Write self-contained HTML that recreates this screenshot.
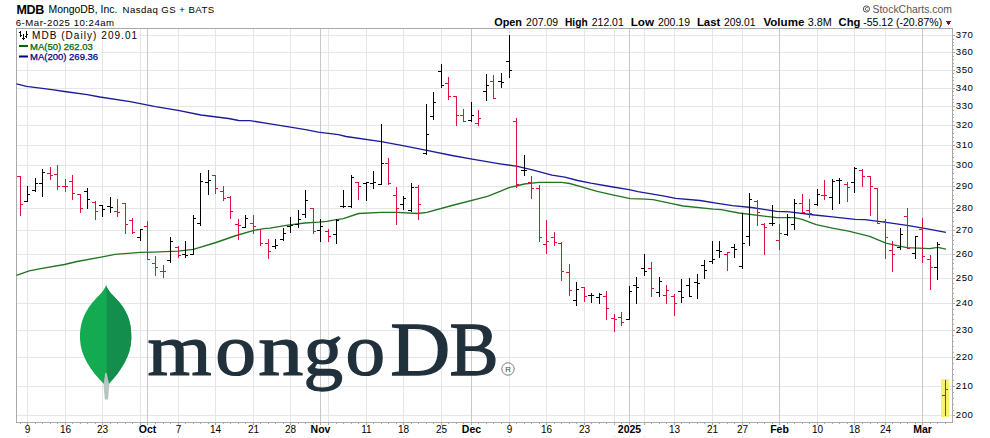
<!DOCTYPE html>
<html><head><meta charset="utf-8"><style>
html,body{margin:0;padding:0;background:#fff;width:990px;height:438px;overflow:hidden}
svg{display:block}
</style></head><body>
<svg width="990" height="438" viewBox="0 0 990 438" shape-rendering="crispEdges">
<rect x="0" y="0" width="990" height="438" fill="#fff"/>
<line x1="17" y1="415.5" x2="952" y2="415.5" stroke="#e6e6e6"/>
<line x1="17" y1="386.5" x2="952" y2="386.5" stroke="#e6e6e6"/>
<line x1="17" y1="357.5" x2="952" y2="357.5" stroke="#e6e6e6"/>
<line x1="17" y1="330.5" x2="952" y2="330.5" stroke="#e6e6e6"/>
<line x1="17" y1="303.5" x2="952" y2="303.5" stroke="#e6e6e6"/>
<line x1="17" y1="278.5" x2="952" y2="278.5" stroke="#e6e6e6"/>
<line x1="17" y1="254.5" x2="952" y2="254.5" stroke="#e6e6e6"/>
<line x1="17" y1="230.5" x2="952" y2="230.5" stroke="#e6e6e6"/>
<line x1="17" y1="208.5" x2="952" y2="208.5" stroke="#e6e6e6"/>
<line x1="17" y1="186.5" x2="952" y2="186.5" stroke="#e6e6e6"/>
<line x1="17" y1="165.5" x2="952" y2="165.5" stroke="#e6e6e6"/>
<line x1="17" y1="145.5" x2="952" y2="145.5" stroke="#e6e6e6"/>
<line x1="17" y1="125.5" x2="952" y2="125.5" stroke="#e6e6e6"/>
<line x1="17" y1="106.5" x2="952" y2="106.5" stroke="#e6e6e6"/>
<line x1="17" y1="88.5" x2="952" y2="88.5" stroke="#e6e6e6"/>
<line x1="17" y1="70.5" x2="952" y2="70.5" stroke="#e6e6e6"/>
<line x1="17" y1="52.5" x2="952" y2="52.5" stroke="#e6e6e6"/>
<line x1="17" y1="35.5" x2="952" y2="35.5" stroke="#e6e6e6"/>
<line x1="27.5" y1="29" x2="27.5" y2="422" stroke="#e6e6e6"/>
<line x1="65.5" y1="29" x2="65.5" y2="422" stroke="#e6e6e6"/>
<line x1="102.5" y1="29" x2="102.5" y2="422" stroke="#e6e6e6"/>
<line x1="140.5" y1="29" x2="140.5" y2="422" stroke="#e6e6e6"/>
<line x1="178.5" y1="29" x2="178.5" y2="422" stroke="#e6e6e6"/>
<line x1="215.5" y1="29" x2="215.5" y2="422" stroke="#e6e6e6"/>
<line x1="253.5" y1="29" x2="253.5" y2="422" stroke="#e6e6e6"/>
<line x1="290.5" y1="29" x2="290.5" y2="422" stroke="#e6e6e6"/>
<line x1="328.5" y1="29" x2="328.5" y2="422" stroke="#e6e6e6"/>
<line x1="366.5" y1="29" x2="366.5" y2="422" stroke="#e6e6e6"/>
<line x1="403.5" y1="29" x2="403.5" y2="422" stroke="#e6e6e6"/>
<line x1="441.5" y1="29" x2="441.5" y2="422" stroke="#e6e6e6"/>
<line x1="509.5" y1="29" x2="509.5" y2="422" stroke="#e6e6e6"/>
<line x1="546.5" y1="29" x2="546.5" y2="422" stroke="#e6e6e6"/>
<line x1="584.5" y1="29" x2="584.5" y2="422" stroke="#e6e6e6"/>
<line x1="614.5" y1="29" x2="614.5" y2="422" stroke="#e6e6e6"/>
<line x1="644.5" y1="29" x2="644.5" y2="422" stroke="#e6e6e6"/>
<line x1="674.5" y1="29" x2="674.5" y2="422" stroke="#e6e6e6"/>
<line x1="712.5" y1="29" x2="712.5" y2="422" stroke="#e6e6e6"/>
<line x1="742.5" y1="29" x2="742.5" y2="422" stroke="#e6e6e6"/>
<line x1="817.5" y1="29" x2="817.5" y2="422" stroke="#e6e6e6"/>
<line x1="854.5" y1="29" x2="854.5" y2="422" stroke="#e6e6e6"/>
<line x1="885.5" y1="29" x2="885.5" y2="422" stroke="#e6e6e6"/>
<line x1="147.5" y1="29" x2="147.5" y2="422" stroke="#c8c8c8"/>
<line x1="320.5" y1="29" x2="320.5" y2="422" stroke="#c8c8c8"/>
<line x1="471.5" y1="29" x2="471.5" y2="422" stroke="#c8c8c8"/>
<line x1="629.5" y1="29" x2="629.5" y2="422" stroke="#c8c8c8"/>
<line x1="779.5" y1="29" x2="779.5" y2="422" stroke="#c8c8c8"/>
<line x1="922.5" y1="29" x2="922.5" y2="422" stroke="#c8c8c8"/>
<rect x="16.5" y="28.5" width="936" height="394" fill="none" stroke="#a9a9a9"/>
<line x1="953" y1="415.5" x2="955" y2="415.5" stroke="#a9a9a9"/>
<line x1="953" y1="410.5" x2="954" y2="410.5" stroke="#a9a9a9"/>
<line x1="953" y1="404.5" x2="954" y2="404.5" stroke="#a9a9a9"/>
<line x1="953" y1="398.5" x2="954" y2="398.5" stroke="#a9a9a9"/>
<line x1="953" y1="392.5" x2="954" y2="392.5" stroke="#a9a9a9"/>
<line x1="953" y1="386.5" x2="955" y2="386.5" stroke="#a9a9a9"/>
<line x1="953" y1="380.5" x2="954" y2="380.5" stroke="#a9a9a9"/>
<line x1="953" y1="374.5" x2="954" y2="374.5" stroke="#a9a9a9"/>
<line x1="953" y1="369.5" x2="954" y2="369.5" stroke="#a9a9a9"/>
<line x1="953" y1="363.5" x2="954" y2="363.5" stroke="#a9a9a9"/>
<line x1="953" y1="357.5" x2="955" y2="357.5" stroke="#a9a9a9"/>
<line x1="953" y1="352.5" x2="954" y2="352.5" stroke="#a9a9a9"/>
<line x1="953" y1="346.5" x2="954" y2="346.5" stroke="#a9a9a9"/>
<line x1="953" y1="341.5" x2="954" y2="341.5" stroke="#a9a9a9"/>
<line x1="953" y1="335.5" x2="954" y2="335.5" stroke="#a9a9a9"/>
<line x1="953" y1="330.5" x2="955" y2="330.5" stroke="#a9a9a9"/>
<line x1="953" y1="324.5" x2="954" y2="324.5" stroke="#a9a9a9"/>
<line x1="953" y1="319.5" x2="954" y2="319.5" stroke="#a9a9a9"/>
<line x1="953" y1="314.5" x2="954" y2="314.5" stroke="#a9a9a9"/>
<line x1="953" y1="309.5" x2="954" y2="309.5" stroke="#a9a9a9"/>
<line x1="953" y1="303.5" x2="955" y2="303.5" stroke="#a9a9a9"/>
<line x1="953" y1="298.5" x2="954" y2="298.5" stroke="#a9a9a9"/>
<line x1="953" y1="293.5" x2="954" y2="293.5" stroke="#a9a9a9"/>
<line x1="953" y1="288.5" x2="954" y2="288.5" stroke="#a9a9a9"/>
<line x1="953" y1="283.5" x2="954" y2="283.5" stroke="#a9a9a9"/>
<line x1="953" y1="278.5" x2="955" y2="278.5" stroke="#a9a9a9"/>
<line x1="953" y1="273.5" x2="954" y2="273.5" stroke="#a9a9a9"/>
<line x1="953" y1="268.5" x2="954" y2="268.5" stroke="#a9a9a9"/>
<line x1="953" y1="263.5" x2="954" y2="263.5" stroke="#a9a9a9"/>
<line x1="953" y1="259.5" x2="954" y2="259.5" stroke="#a9a9a9"/>
<line x1="953" y1="254.5" x2="955" y2="254.5" stroke="#a9a9a9"/>
<line x1="953" y1="249.5" x2="954" y2="249.5" stroke="#a9a9a9"/>
<line x1="953" y1="244.5" x2="954" y2="244.5" stroke="#a9a9a9"/>
<line x1="953" y1="240.5" x2="954" y2="240.5" stroke="#a9a9a9"/>
<line x1="953" y1="235.5" x2="954" y2="235.5" stroke="#a9a9a9"/>
<line x1="953" y1="230.5" x2="955" y2="230.5" stroke="#a9a9a9"/>
<line x1="953" y1="226.5" x2="954" y2="226.5" stroke="#a9a9a9"/>
<line x1="953" y1="221.5" x2="954" y2="221.5" stroke="#a9a9a9"/>
<line x1="953" y1="217.5" x2="954" y2="217.5" stroke="#a9a9a9"/>
<line x1="953" y1="212.5" x2="954" y2="212.5" stroke="#a9a9a9"/>
<line x1="953" y1="208.5" x2="955" y2="208.5" stroke="#a9a9a9"/>
<line x1="953" y1="203.5" x2="954" y2="203.5" stroke="#a9a9a9"/>
<line x1="953" y1="199.5" x2="954" y2="199.5" stroke="#a9a9a9"/>
<line x1="953" y1="195.5" x2="954" y2="195.5" stroke="#a9a9a9"/>
<line x1="953" y1="190.5" x2="954" y2="190.5" stroke="#a9a9a9"/>
<line x1="953" y1="186.5" x2="955" y2="186.5" stroke="#a9a9a9"/>
<line x1="953" y1="182.5" x2="954" y2="182.5" stroke="#a9a9a9"/>
<line x1="953" y1="178.5" x2="954" y2="178.5" stroke="#a9a9a9"/>
<line x1="953" y1="173.5" x2="954" y2="173.5" stroke="#a9a9a9"/>
<line x1="953" y1="169.5" x2="954" y2="169.5" stroke="#a9a9a9"/>
<line x1="953" y1="165.5" x2="955" y2="165.5" stroke="#a9a9a9"/>
<line x1="953" y1="161.5" x2="954" y2="161.5" stroke="#a9a9a9"/>
<line x1="953" y1="157.5" x2="954" y2="157.5" stroke="#a9a9a9"/>
<line x1="953" y1="153.5" x2="954" y2="153.5" stroke="#a9a9a9"/>
<line x1="953" y1="149.5" x2="954" y2="149.5" stroke="#a9a9a9"/>
<line x1="953" y1="145.5" x2="955" y2="145.5" stroke="#a9a9a9"/>
<line x1="953" y1="141.5" x2="954" y2="141.5" stroke="#a9a9a9"/>
<line x1="953" y1="137.5" x2="954" y2="137.5" stroke="#a9a9a9"/>
<line x1="953" y1="133.5" x2="954" y2="133.5" stroke="#a9a9a9"/>
<line x1="953" y1="129.5" x2="954" y2="129.5" stroke="#a9a9a9"/>
<line x1="953" y1="125.5" x2="955" y2="125.5" stroke="#a9a9a9"/>
<line x1="953" y1="121.5" x2="954" y2="121.5" stroke="#a9a9a9"/>
<line x1="953" y1="117.5" x2="954" y2="117.5" stroke="#a9a9a9"/>
<line x1="953" y1="114.5" x2="954" y2="114.5" stroke="#a9a9a9"/>
<line x1="953" y1="110.5" x2="954" y2="110.5" stroke="#a9a9a9"/>
<line x1="953" y1="106.5" x2="955" y2="106.5" stroke="#a9a9a9"/>
<line x1="953" y1="102.5" x2="954" y2="102.5" stroke="#a9a9a9"/>
<line x1="953" y1="99.5" x2="954" y2="99.5" stroke="#a9a9a9"/>
<line x1="953" y1="95.5" x2="954" y2="95.5" stroke="#a9a9a9"/>
<line x1="953" y1="91.5" x2="954" y2="91.5" stroke="#a9a9a9"/>
<line x1="953" y1="88.5" x2="955" y2="88.5" stroke="#a9a9a9"/>
<line x1="953" y1="84.5" x2="954" y2="84.5" stroke="#a9a9a9"/>
<line x1="953" y1="80.5" x2="954" y2="80.5" stroke="#a9a9a9"/>
<line x1="953" y1="77.5" x2="954" y2="77.5" stroke="#a9a9a9"/>
<line x1="953" y1="73.5" x2="954" y2="73.5" stroke="#a9a9a9"/>
<line x1="953" y1="70.5" x2="955" y2="70.5" stroke="#a9a9a9"/>
<line x1="953" y1="66.5" x2="954" y2="66.5" stroke="#a9a9a9"/>
<line x1="953" y1="63.5" x2="954" y2="63.5" stroke="#a9a9a9"/>
<line x1="953" y1="59.5" x2="954" y2="59.5" stroke="#a9a9a9"/>
<line x1="953" y1="56.5" x2="954" y2="56.5" stroke="#a9a9a9"/>
<line x1="953" y1="52.5" x2="955" y2="52.5" stroke="#a9a9a9"/>
<line x1="953" y1="49.5" x2="954" y2="49.5" stroke="#a9a9a9"/>
<line x1="953" y1="45.5" x2="954" y2="45.5" stroke="#a9a9a9"/>
<line x1="953" y1="42.5" x2="954" y2="42.5" stroke="#a9a9a9"/>
<line x1="953" y1="39.5" x2="954" y2="39.5" stroke="#a9a9a9"/>
<line x1="953" y1="35.5" x2="955" y2="35.5" stroke="#a9a9a9"/>
<line x1="20.5" y1="423" x2="20.5" y2="424" stroke="#a9a9a9"/>
<line x1="27.5" y1="423" x2="27.5" y2="424" stroke="#a9a9a9"/>
<line x1="35.5" y1="423" x2="35.5" y2="424" stroke="#a9a9a9"/>
<line x1="42.5" y1="423" x2="42.5" y2="424" stroke="#a9a9a9"/>
<line x1="50.5" y1="423" x2="50.5" y2="424" stroke="#a9a9a9"/>
<line x1="57.5" y1="423" x2="57.5" y2="424" stroke="#a9a9a9"/>
<line x1="65.5" y1="423" x2="65.5" y2="424" stroke="#a9a9a9"/>
<line x1="72.5" y1="423" x2="72.5" y2="424" stroke="#a9a9a9"/>
<line x1="80.5" y1="423" x2="80.5" y2="424" stroke="#a9a9a9"/>
<line x1="87.5" y1="423" x2="87.5" y2="424" stroke="#a9a9a9"/>
<line x1="95.5" y1="423" x2="95.5" y2="424" stroke="#a9a9a9"/>
<line x1="102.5" y1="423" x2="102.5" y2="424" stroke="#a9a9a9"/>
<line x1="110.5" y1="423" x2="110.5" y2="424" stroke="#a9a9a9"/>
<line x1="117.5" y1="423" x2="117.5" y2="424" stroke="#a9a9a9"/>
<line x1="125.5" y1="423" x2="125.5" y2="424" stroke="#a9a9a9"/>
<line x1="132.5" y1="423" x2="132.5" y2="424" stroke="#a9a9a9"/>
<line x1="140.5" y1="423" x2="140.5" y2="424" stroke="#a9a9a9"/>
<line x1="147.5" y1="423" x2="147.5" y2="424" stroke="#a9a9a9"/>
<line x1="155.5" y1="423" x2="155.5" y2="424" stroke="#a9a9a9"/>
<line x1="163.5" y1="423" x2="163.5" y2="424" stroke="#a9a9a9"/>
<line x1="170.5" y1="423" x2="170.5" y2="424" stroke="#a9a9a9"/>
<line x1="178.5" y1="423" x2="178.5" y2="424" stroke="#a9a9a9"/>
<line x1="185.5" y1="423" x2="185.5" y2="424" stroke="#a9a9a9"/>
<line x1="193.5" y1="423" x2="193.5" y2="424" stroke="#a9a9a9"/>
<line x1="200.5" y1="423" x2="200.5" y2="424" stroke="#a9a9a9"/>
<line x1="208.5" y1="423" x2="208.5" y2="424" stroke="#a9a9a9"/>
<line x1="215.5" y1="423" x2="215.5" y2="424" stroke="#a9a9a9"/>
<line x1="223.5" y1="423" x2="223.5" y2="424" stroke="#a9a9a9"/>
<line x1="230.5" y1="423" x2="230.5" y2="424" stroke="#a9a9a9"/>
<line x1="238.5" y1="423" x2="238.5" y2="424" stroke="#a9a9a9"/>
<line x1="245.5" y1="423" x2="245.5" y2="424" stroke="#a9a9a9"/>
<line x1="253.5" y1="423" x2="253.5" y2="424" stroke="#a9a9a9"/>
<line x1="260.5" y1="423" x2="260.5" y2="424" stroke="#a9a9a9"/>
<line x1="268.5" y1="423" x2="268.5" y2="424" stroke="#a9a9a9"/>
<line x1="275.5" y1="423" x2="275.5" y2="424" stroke="#a9a9a9"/>
<line x1="283.5" y1="423" x2="283.5" y2="424" stroke="#a9a9a9"/>
<line x1="290.5" y1="423" x2="290.5" y2="424" stroke="#a9a9a9"/>
<line x1="298.5" y1="423" x2="298.5" y2="424" stroke="#a9a9a9"/>
<line x1="305.5" y1="423" x2="305.5" y2="424" stroke="#a9a9a9"/>
<line x1="313.5" y1="423" x2="313.5" y2="424" stroke="#a9a9a9"/>
<line x1="320.5" y1="423" x2="320.5" y2="424" stroke="#a9a9a9"/>
<line x1="328.5" y1="423" x2="328.5" y2="424" stroke="#a9a9a9"/>
<line x1="336.5" y1="423" x2="336.5" y2="424" stroke="#a9a9a9"/>
<line x1="343.5" y1="423" x2="343.5" y2="424" stroke="#a9a9a9"/>
<line x1="351.5" y1="423" x2="351.5" y2="424" stroke="#a9a9a9"/>
<line x1="358.5" y1="423" x2="358.5" y2="424" stroke="#a9a9a9"/>
<line x1="366.5" y1="423" x2="366.5" y2="424" stroke="#a9a9a9"/>
<line x1="373.5" y1="423" x2="373.5" y2="424" stroke="#a9a9a9"/>
<line x1="381.5" y1="423" x2="381.5" y2="424" stroke="#a9a9a9"/>
<line x1="388.5" y1="423" x2="388.5" y2="424" stroke="#a9a9a9"/>
<line x1="396.5" y1="423" x2="396.5" y2="424" stroke="#a9a9a9"/>
<line x1="403.5" y1="423" x2="403.5" y2="424" stroke="#a9a9a9"/>
<line x1="411.5" y1="423" x2="411.5" y2="424" stroke="#a9a9a9"/>
<line x1="418.5" y1="423" x2="418.5" y2="424" stroke="#a9a9a9"/>
<line x1="426.5" y1="423" x2="426.5" y2="424" stroke="#a9a9a9"/>
<line x1="433.5" y1="423" x2="433.5" y2="424" stroke="#a9a9a9"/>
<line x1="441.5" y1="423" x2="441.5" y2="424" stroke="#a9a9a9"/>
<line x1="448.5" y1="423" x2="448.5" y2="424" stroke="#a9a9a9"/>
<line x1="456.5" y1="423" x2="456.5" y2="424" stroke="#a9a9a9"/>
<line x1="463.5" y1="423" x2="463.5" y2="424" stroke="#a9a9a9"/>
<line x1="471.5" y1="423" x2="471.5" y2="424" stroke="#a9a9a9"/>
<line x1="478.5" y1="423" x2="478.5" y2="424" stroke="#a9a9a9"/>
<line x1="486.5" y1="423" x2="486.5" y2="424" stroke="#a9a9a9"/>
<line x1="493.5" y1="423" x2="493.5" y2="424" stroke="#a9a9a9"/>
<line x1="501.5" y1="423" x2="501.5" y2="424" stroke="#a9a9a9"/>
<line x1="509.5" y1="423" x2="509.5" y2="424" stroke="#a9a9a9"/>
<line x1="516.5" y1="423" x2="516.5" y2="424" stroke="#a9a9a9"/>
<line x1="524.5" y1="423" x2="524.5" y2="424" stroke="#a9a9a9"/>
<line x1="531.5" y1="423" x2="531.5" y2="424" stroke="#a9a9a9"/>
<line x1="539.5" y1="423" x2="539.5" y2="424" stroke="#a9a9a9"/>
<line x1="546.5" y1="423" x2="546.5" y2="424" stroke="#a9a9a9"/>
<line x1="554.5" y1="423" x2="554.5" y2="424" stroke="#a9a9a9"/>
<line x1="561.5" y1="423" x2="561.5" y2="424" stroke="#a9a9a9"/>
<line x1="569.5" y1="423" x2="569.5" y2="424" stroke="#a9a9a9"/>
<line x1="576.5" y1="423" x2="576.5" y2="424" stroke="#a9a9a9"/>
<line x1="584.5" y1="423" x2="584.5" y2="424" stroke="#a9a9a9"/>
<line x1="591.5" y1="423" x2="591.5" y2="424" stroke="#a9a9a9"/>
<line x1="599.5" y1="423" x2="599.5" y2="424" stroke="#a9a9a9"/>
<line x1="606.5" y1="423" x2="606.5" y2="424" stroke="#a9a9a9"/>
<line x1="614.5" y1="423" x2="614.5" y2="424" stroke="#a9a9a9"/>
<line x1="621.5" y1="423" x2="621.5" y2="424" stroke="#a9a9a9"/>
<line x1="629.5" y1="423" x2="629.5" y2="424" stroke="#a9a9a9"/>
<line x1="636.5" y1="423" x2="636.5" y2="424" stroke="#a9a9a9"/>
<line x1="644.5" y1="423" x2="644.5" y2="424" stroke="#a9a9a9"/>
<line x1="651.5" y1="423" x2="651.5" y2="424" stroke="#a9a9a9"/>
<line x1="659.5" y1="423" x2="659.5" y2="424" stroke="#a9a9a9"/>
<line x1="666.5" y1="423" x2="666.5" y2="424" stroke="#a9a9a9"/>
<line x1="674.5" y1="423" x2="674.5" y2="424" stroke="#a9a9a9"/>
<line x1="681.5" y1="423" x2="681.5" y2="424" stroke="#a9a9a9"/>
<line x1="689.5" y1="423" x2="689.5" y2="424" stroke="#a9a9a9"/>
<line x1="697.5" y1="423" x2="697.5" y2="424" stroke="#a9a9a9"/>
<line x1="704.5" y1="423" x2="704.5" y2="424" stroke="#a9a9a9"/>
<line x1="712.5" y1="423" x2="712.5" y2="424" stroke="#a9a9a9"/>
<line x1="719.5" y1="423" x2="719.5" y2="424" stroke="#a9a9a9"/>
<line x1="727.5" y1="423" x2="727.5" y2="424" stroke="#a9a9a9"/>
<line x1="734.5" y1="423" x2="734.5" y2="424" stroke="#a9a9a9"/>
<line x1="742.5" y1="423" x2="742.5" y2="424" stroke="#a9a9a9"/>
<line x1="749.5" y1="423" x2="749.5" y2="424" stroke="#a9a9a9"/>
<line x1="757.5" y1="423" x2="757.5" y2="424" stroke="#a9a9a9"/>
<line x1="764.5" y1="423" x2="764.5" y2="424" stroke="#a9a9a9"/>
<line x1="772.5" y1="423" x2="772.5" y2="424" stroke="#a9a9a9"/>
<line x1="779.5" y1="423" x2="779.5" y2="424" stroke="#a9a9a9"/>
<line x1="787.5" y1="423" x2="787.5" y2="424" stroke="#a9a9a9"/>
<line x1="794.5" y1="423" x2="794.5" y2="424" stroke="#a9a9a9"/>
<line x1="802.5" y1="423" x2="802.5" y2="424" stroke="#a9a9a9"/>
<line x1="809.5" y1="423" x2="809.5" y2="424" stroke="#a9a9a9"/>
<line x1="817.5" y1="423" x2="817.5" y2="424" stroke="#a9a9a9"/>
<line x1="824.5" y1="423" x2="824.5" y2="424" stroke="#a9a9a9"/>
<line x1="832.5" y1="423" x2="832.5" y2="424" stroke="#a9a9a9"/>
<line x1="839.5" y1="423" x2="839.5" y2="424" stroke="#a9a9a9"/>
<line x1="847.5" y1="423" x2="847.5" y2="424" stroke="#a9a9a9"/>
<line x1="854.5" y1="423" x2="854.5" y2="424" stroke="#a9a9a9"/>
<line x1="862.5" y1="423" x2="862.5" y2="424" stroke="#a9a9a9"/>
<line x1="870.5" y1="423" x2="870.5" y2="424" stroke="#a9a9a9"/>
<line x1="877.5" y1="423" x2="877.5" y2="424" stroke="#a9a9a9"/>
<line x1="885.5" y1="423" x2="885.5" y2="424" stroke="#a9a9a9"/>
<line x1="892.5" y1="423" x2="892.5" y2="424" stroke="#a9a9a9"/>
<line x1="900.5" y1="423" x2="900.5" y2="424" stroke="#a9a9a9"/>
<line x1="907.5" y1="423" x2="907.5" y2="424" stroke="#a9a9a9"/>
<line x1="915.5" y1="423" x2="915.5" y2="424" stroke="#a9a9a9"/>
<line x1="922.5" y1="423" x2="922.5" y2="424" stroke="#a9a9a9"/>
<line x1="930.5" y1="423" x2="930.5" y2="424" stroke="#a9a9a9"/>
<line x1="937.5" y1="423" x2="937.5" y2="424" stroke="#a9a9a9"/>
<line x1="945.5" y1="423" x2="945.5" y2="424" stroke="#a9a9a9"/>
<line x1="27.5" y1="423" x2="27.5" y2="425" stroke="#a9a9a9"/>
<rect x="27" y="436" width="1" height="1" fill="#d0d0d0"/>
<line x1="65.5" y1="423" x2="65.5" y2="425" stroke="#a9a9a9"/>
<rect x="65" y="436" width="1" height="1" fill="#d0d0d0"/>
<line x1="102.5" y1="423" x2="102.5" y2="425" stroke="#a9a9a9"/>
<rect x="102" y="436" width="1" height="1" fill="#d0d0d0"/>
<line x1="140.5" y1="423" x2="140.5" y2="425" stroke="#a9a9a9"/>
<rect x="140" y="436" width="1" height="1" fill="#d0d0d0"/>
<line x1="178.5" y1="423" x2="178.5" y2="425" stroke="#a9a9a9"/>
<rect x="178" y="436" width="1" height="1" fill="#d0d0d0"/>
<line x1="215.5" y1="423" x2="215.5" y2="425" stroke="#a9a9a9"/>
<rect x="215" y="436" width="1" height="1" fill="#d0d0d0"/>
<line x1="253.5" y1="423" x2="253.5" y2="425" stroke="#a9a9a9"/>
<rect x="253" y="436" width="1" height="1" fill="#d0d0d0"/>
<line x1="290.5" y1="423" x2="290.5" y2="425" stroke="#a9a9a9"/>
<rect x="290" y="436" width="1" height="1" fill="#d0d0d0"/>
<line x1="328.5" y1="423" x2="328.5" y2="425" stroke="#a9a9a9"/>
<rect x="328" y="436" width="1" height="1" fill="#d0d0d0"/>
<line x1="366.5" y1="423" x2="366.5" y2="425" stroke="#a9a9a9"/>
<rect x="366" y="436" width="1" height="1" fill="#d0d0d0"/>
<line x1="403.5" y1="423" x2="403.5" y2="425" stroke="#a9a9a9"/>
<rect x="403" y="436" width="1" height="1" fill="#d0d0d0"/>
<line x1="441.5" y1="423" x2="441.5" y2="425" stroke="#a9a9a9"/>
<rect x="441" y="436" width="1" height="1" fill="#d0d0d0"/>
<line x1="509.5" y1="423" x2="509.5" y2="425" stroke="#a9a9a9"/>
<rect x="509" y="436" width="1" height="1" fill="#d0d0d0"/>
<line x1="546.5" y1="423" x2="546.5" y2="425" stroke="#a9a9a9"/>
<rect x="546" y="436" width="1" height="1" fill="#d0d0d0"/>
<line x1="584.5" y1="423" x2="584.5" y2="425" stroke="#a9a9a9"/>
<rect x="584" y="436" width="1" height="1" fill="#d0d0d0"/>
<line x1="614.5" y1="423" x2="614.5" y2="425" stroke="#a9a9a9"/>
<rect x="614" y="436" width="1" height="1" fill="#d0d0d0"/>
<line x1="644.5" y1="423" x2="644.5" y2="425" stroke="#a9a9a9"/>
<rect x="644" y="436" width="1" height="1" fill="#d0d0d0"/>
<line x1="674.5" y1="423" x2="674.5" y2="425" stroke="#a9a9a9"/>
<rect x="674" y="436" width="1" height="1" fill="#d0d0d0"/>
<line x1="712.5" y1="423" x2="712.5" y2="425" stroke="#a9a9a9"/>
<rect x="712" y="436" width="1" height="1" fill="#d0d0d0"/>
<line x1="742.5" y1="423" x2="742.5" y2="425" stroke="#a9a9a9"/>
<rect x="742" y="436" width="1" height="1" fill="#d0d0d0"/>
<line x1="817.5" y1="423" x2="817.5" y2="425" stroke="#a9a9a9"/>
<rect x="817" y="436" width="1" height="1" fill="#d0d0d0"/>
<line x1="854.5" y1="423" x2="854.5" y2="425" stroke="#a9a9a9"/>
<rect x="854" y="436" width="1" height="1" fill="#d0d0d0"/>
<line x1="885.5" y1="423" x2="885.5" y2="425" stroke="#a9a9a9"/>
<rect x="885" y="436" width="1" height="1" fill="#d0d0d0"/>
<line x1="147.5" y1="423" x2="147.5" y2="425" stroke="#a9a9a9"/>
<rect x="147" y="436" width="1" height="1" fill="#d0d0d0"/>
<line x1="320.5" y1="423" x2="320.5" y2="425" stroke="#a9a9a9"/>
<rect x="320" y="436" width="1" height="1" fill="#d0d0d0"/>
<line x1="471.5" y1="423" x2="471.5" y2="425" stroke="#a9a9a9"/>
<rect x="471" y="436" width="1" height="1" fill="#d0d0d0"/>
<line x1="629.5" y1="423" x2="629.5" y2="425" stroke="#a9a9a9"/>
<rect x="629" y="436" width="1" height="1" fill="#d0d0d0"/>
<line x1="779.5" y1="423" x2="779.5" y2="425" stroke="#a9a9a9"/>
<rect x="779" y="436" width="1" height="1" fill="#d0d0d0"/>
<line x1="922.5" y1="423" x2="922.5" y2="425" stroke="#a9a9a9"/>
<rect x="922" y="436" width="1" height="1" fill="#d0d0d0"/>
<g font-family="Liberation Sans, sans-serif" font-size="9.6" letter-spacing="0.5" fill="#000" shape-rendering="auto">
<text x="955.8" y="417.6">200</text>
<text x="955.8" y="388.6">210</text>
<text x="955.8" y="359.6">220</text>
<text x="955.8" y="332.6">230</text>
<text x="955.8" y="305.6">240</text>
<text x="955.8" y="280.6">250</text>
<text x="955.8" y="256.6">260</text>
<text x="955.8" y="232.6">270</text>
<text x="955.8" y="210.6">280</text>
<text x="955.8" y="188.6">290</text>
<text x="955.8" y="167.6">300</text>
<text x="955.8" y="147.6">310</text>
<text x="955.8" y="127.6">320</text>
<text x="955.8" y="108.6">330</text>
<text x="955.8" y="90.6">340</text>
<text x="955.8" y="72.6">350</text>
<text x="955.8" y="54.6">360</text>
<text x="955.8" y="37.6">370</text>
</g>
<g font-family="Liberation Sans, sans-serif" font-size="10" fill="#000" text-anchor="middle" shape-rendering="auto">
<text x="27.5" y="433">9</text>
<text x="65.5" y="433">16</text>
<text x="102.5" y="433">23</text>
<text x="147.5" y="433" font-weight="bold" font-size="10.5">Oct</text>
<text x="178.5" y="433">7</text>
<text x="215.5" y="433">14</text>
<text x="253.5" y="433">21</text>
<text x="290.5" y="433">28</text>
<text x="320.5" y="433" font-weight="bold" font-size="10.5">Nov</text>
<text x="366.5" y="433">11</text>
<text x="403.5" y="433">18</text>
<text x="441.5" y="433">25</text>
<text x="471.5" y="433" font-weight="bold" font-size="10.5">Dec</text>
<text x="509.5" y="433">9</text>
<text x="546.5" y="433">16</text>
<text x="584.5" y="433">23</text>
<text x="629.5" y="433" font-weight="bold" font-size="10.5">2025</text>
<text x="674.5" y="433">13</text>
<text x="712.5" y="433">21</text>
<text x="742.5" y="433">27</text>
<text x="779.5" y="433" font-weight="bold" font-size="10.5">Feb</text>
<text x="817.5" y="433">10</text>
<text x="854.5" y="433">18</text>
<text x="885.5" y="433">24</text>
<text x="922.5" y="433" font-weight="bold" font-size="10.5">Mar</text>
</g>
<g shape-rendering="auto">
<path d="M106,285 C104.5,291 98,296 92,303 C83,314 79.5,326 80,339 C80.5,356 91,371 104,384 L106.5,386.5 L109,384 C121,371 130.8,356 131.3,339 C131.8,326 129,314 120,303 C114,296 107.5,291 106,285 Z" fill="#13aa52"/>
<path d="M106,285 C107.5,291 114,296 120,303 C129,314 131.8,326 131.3,339 C130.8,356 121,371 108,384 L106.7,386 L106.7,296 Z" fill="#148e4c"/>
<path d="M105.2,373 L106.6,373 L109.3,385 L108,399.5 L104.8,399.5 L103.6,385 Z" fill="#b8c4c2"/>
</g>
<g font-family="Liberation Serif, serif" font-size="77" fill="#21313c" stroke="#21313c" stroke-width="1.3" shape-rendering="auto">
<text transform="translate(147.38,374.6) scale(1.0695,0.95)" x="0" y="0">m</text>
<text transform="translate(215.34,374.6) scale(1.0594,0.95)" x="0" y="0">o</text>
<text transform="translate(258.18,374.6) scale(1.1703,0.95)" x="0" y="0">n</text>
<text transform="translate(303.44,374.6) scale(1.0282,0.97)" x="0" y="0">g</text>
<text transform="translate(345.43,374.6) scale(1.0291,0.95)" x="0" y="0">o</text>
<text transform="translate(390.36,374.6) scale(1.0792,0.985)" x="0" y="0">D</text>
<text transform="translate(449.61,374.6) scale(0.9557,0.985)" x="0" y="0">B</text>
</g>
<g shape-rendering="auto"><circle cx="508" cy="369" r="6.2" fill="none" stroke="#555f63" stroke-width="0.8"/><text x="508.2" y="372.3" font-family="Liberation Sans, sans-serif" font-size="8" fill="#3f4a4f" text-anchor="middle">R</text></g>
<polyline points="16.5,83.9 26.6,86.4 51.9,89.7 64.5,91.5 87.2,94.7 99.9,97.0 130.2,101.6 155.4,106.6 178.1,110.4 200.9,115.0 228.6,118.5 238.7,120.5 250.0,120.6 270.2,123.9 290.4,127.2 305.6,129.7 318.2,132.2 338.4,134.7 346.0,136.5 381.3,141.6 401.5,145.4 426.8,150.4 452.0,155.5 472.2,159.2 500.0,163.8 516.2,166.2 532.4,169.8 551.9,175.1 564.8,177.2 577.8,180.5 590.8,183.2 610.1,186.5 630.3,189.8 637.9,191.6 663.1,195.9 675.8,198.4 700.0,200.5 716.2,203.2 732.4,205.7 751.5,207.5 776.8,211.3 789.4,211.8 814.6,215.0 832.4,216.8 855.1,219.4 864.8,219.7 884.3,222.2 907.0,225.4 923.2,228.2 945.9,232.4" fill="none" stroke="#1a1a9a" stroke-width="1.35" stroke-linejoin="round" shape-rendering="auto"/>
<polyline points="16.5,275.4 29.2,270.8 39.3,268.8 64.5,264.5 77.1,261.5 102.4,256.9 115.0,254.4 140.3,252.4 152.9,252.1 178.1,251.1 193.3,249.3 216.0,242.5 236.2,235.5 253.9,230.4 264.0,228.6 270.0,228.1 286.2,225.4 304.8,223.0 318.6,222.1 326.7,221.3 333.3,220.1 343.4,218.6 358.6,213.5 381.3,212.3 396.5,212.3 417.9,213.5 426.8,212.3 452.0,205.5 487.4,196.4 500.0,191.3 509.7,187.3 516.2,186.0 524.3,184.0 538.9,182.4 561.6,182.4 569.7,183.5 584.3,187.6 597.2,191.3 612.6,194.8 630.3,198.6 645.5,199.1 653.0,199.6 670.7,203.4 683.3,206.0 713.6,209.2 721.2,209.7 738.9,213.0 764.1,216.1 776.8,217.6 794.4,217.6 802.0,219.3 816.2,224.6 832.4,228.2 848.6,231.1 869.7,236.3 885.9,243.2 897.2,245.7 907.0,247.6 929.7,248.6 937.8,247.3 945.9,249.2" fill="none" stroke="#237323" stroke-width="1.35" stroke-linejoin="round" shape-rendering="auto"/>
<rect x="941" y="379" width="8" height="38" fill="#f5f56a"/>
<rect x="20" y="176" width="1" height="40" fill="#dc143c"/>
<rect x="17" y="176" width="3" height="1" fill="#dc143c"/>
<rect x="21" y="204" width="2" height="1" fill="#dc143c"/>
<rect x="27" y="186" width="1" height="16" fill="#000000"/>
<rect x="24" y="201" width="3" height="1" fill="#000000"/>
<rect x="28" y="194" width="2" height="1" fill="#000000"/>
<rect x="35" y="178" width="1" height="14" fill="#000000"/>
<rect x="32" y="190" width="3" height="1" fill="#000000"/>
<rect x="36" y="183" width="2" height="1" fill="#000000"/>
<rect x="42" y="169" width="1" height="28" fill="#000000"/>
<rect x="39" y="183" width="3" height="1" fill="#000000"/>
<rect x="43" y="172" width="2" height="1" fill="#000000"/>
<rect x="50" y="167" width="1" height="13" fill="#dc143c"/>
<rect x="47" y="173" width="3" height="1" fill="#dc143c"/>
<rect x="51" y="175" width="2" height="1" fill="#dc143c"/>
<rect x="57" y="165" width="1" height="25" fill="#dc143c"/>
<rect x="54" y="174" width="3" height="1" fill="#dc143c"/>
<rect x="58" y="186" width="2" height="1" fill="#dc143c"/>
<rect x="65" y="179" width="1" height="13" fill="#dc143c"/>
<rect x="62" y="186" width="3" height="1" fill="#dc143c"/>
<rect x="66" y="186" width="2" height="1" fill="#dc143c"/>
<rect x="72" y="175" width="1" height="25" fill="#dc143c"/>
<rect x="69" y="181" width="3" height="1" fill="#dc143c"/>
<rect x="73" y="193" width="2" height="1" fill="#dc143c"/>
<rect x="80" y="194" width="1" height="19" fill="#dc143c"/>
<rect x="77" y="194" width="3" height="1" fill="#dc143c"/>
<rect x="81" y="208" width="2" height="1" fill="#dc143c"/>
<rect x="87" y="188" width="1" height="21" fill="#000000"/>
<rect x="84" y="191" width="3" height="1" fill="#000000"/>
<rect x="88" y="199" width="2" height="1" fill="#000000"/>
<rect x="95" y="201" width="1" height="19" fill="#dc143c"/>
<rect x="92" y="202" width="3" height="1" fill="#dc143c"/>
<rect x="96" y="211" width="2" height="1" fill="#dc143c"/>
<rect x="102" y="205" width="1" height="12" fill="#000000"/>
<rect x="99" y="205" width="3" height="1" fill="#000000"/>
<rect x="103" y="209" width="2" height="1" fill="#000000"/>
<rect x="110" y="197" width="1" height="16" fill="#000000"/>
<rect x="107" y="206" width="3" height="1" fill="#000000"/>
<rect x="111" y="207" width="2" height="1" fill="#000000"/>
<rect x="117" y="199" width="1" height="18" fill="#dc143c"/>
<rect x="114" y="211" width="3" height="1" fill="#dc143c"/>
<rect x="118" y="212" width="2" height="1" fill="#dc143c"/>
<rect x="125" y="203" width="1" height="31" fill="#dc143c"/>
<rect x="122" y="203" width="3" height="1" fill="#dc143c"/>
<rect x="126" y="224" width="2" height="1" fill="#dc143c"/>
<rect x="132" y="218" width="1" height="16" fill="#dc143c"/>
<rect x="129" y="220" width="3" height="1" fill="#dc143c"/>
<rect x="133" y="232" width="2" height="1" fill="#dc143c"/>
<rect x="140" y="229" width="1" height="12" fill="#000000"/>
<rect x="137" y="237" width="3" height="1" fill="#000000"/>
<rect x="141" y="229" width="2" height="1" fill="#000000"/>
<rect x="147" y="221" width="1" height="39" fill="#dc143c"/>
<rect x="144" y="226" width="3" height="1" fill="#dc143c"/>
<rect x="148" y="259" width="2" height="1" fill="#dc143c"/>
<rect x="155" y="256" width="1" height="20" fill="#dc143c"/>
<rect x="152" y="263" width="3" height="1" fill="#dc143c"/>
<rect x="156" y="267" width="2" height="1" fill="#dc143c"/>
<rect x="163" y="265" width="1" height="13" fill="#dc143c"/>
<rect x="160" y="271" width="3" height="1" fill="#dc143c"/>
<rect x="164" y="271" width="2" height="1" fill="#dc143c"/>
<rect x="170" y="237" width="1" height="26" fill="#000000"/>
<rect x="167" y="260" width="3" height="1" fill="#000000"/>
<rect x="171" y="241" width="2" height="1" fill="#000000"/>
<rect x="178" y="246" width="1" height="12" fill="#dc143c"/>
<rect x="175" y="247" width="3" height="1" fill="#dc143c"/>
<rect x="179" y="255" width="2" height="1" fill="#dc143c"/>
<rect x="185" y="241" width="1" height="17" fill="#000000"/>
<rect x="182" y="254" width="3" height="1" fill="#000000"/>
<rect x="186" y="255" width="2" height="1" fill="#000000"/>
<rect x="193" y="215" width="1" height="40" fill="#000000"/>
<rect x="190" y="254" width="3" height="1" fill="#000000"/>
<rect x="194" y="218" width="2" height="1" fill="#000000"/>
<rect x="200" y="173" width="1" height="53" fill="#000000"/>
<rect x="197" y="223" width="3" height="1" fill="#000000"/>
<rect x="201" y="181" width="2" height="1" fill="#000000"/>
<rect x="208" y="170" width="1" height="25" fill="#000000"/>
<rect x="205" y="182" width="3" height="1" fill="#000000"/>
<rect x="209" y="180" width="2" height="1" fill="#000000"/>
<rect x="215" y="175" width="1" height="19" fill="#dc143c"/>
<rect x="212" y="175" width="3" height="1" fill="#dc143c"/>
<rect x="216" y="188" width="2" height="1" fill="#dc143c"/>
<rect x="223" y="186" width="1" height="15" fill="#dc143c"/>
<rect x="220" y="191" width="3" height="1" fill="#dc143c"/>
<rect x="224" y="198" width="2" height="1" fill="#dc143c"/>
<rect x="230" y="196" width="1" height="23" fill="#dc143c"/>
<rect x="227" y="197" width="3" height="1" fill="#dc143c"/>
<rect x="231" y="211" width="2" height="1" fill="#dc143c"/>
<rect x="238" y="219" width="1" height="21" fill="#dc143c"/>
<rect x="235" y="224" width="3" height="1" fill="#dc143c"/>
<rect x="239" y="225" width="2" height="1" fill="#dc143c"/>
<rect x="245" y="215" width="1" height="13" fill="#000000"/>
<rect x="242" y="227" width="3" height="1" fill="#000000"/>
<rect x="246" y="218" width="2" height="1" fill="#000000"/>
<rect x="253" y="215" width="1" height="19" fill="#dc143c"/>
<rect x="250" y="223" width="3" height="1" fill="#dc143c"/>
<rect x="254" y="226" width="2" height="1" fill="#dc143c"/>
<rect x="260" y="229" width="1" height="17" fill="#dc143c"/>
<rect x="257" y="229" width="3" height="1" fill="#dc143c"/>
<rect x="261" y="243" width="2" height="1" fill="#dc143c"/>
<rect x="268" y="239" width="1" height="20" fill="#dc143c"/>
<rect x="265" y="243" width="3" height="1" fill="#dc143c"/>
<rect x="269" y="251" width="2" height="1" fill="#dc143c"/>
<rect x="275" y="239" width="1" height="10" fill="#000000"/>
<rect x="272" y="246" width="3" height="1" fill="#000000"/>
<rect x="276" y="245" width="2" height="1" fill="#000000"/>
<rect x="283" y="228" width="1" height="13" fill="#000000"/>
<rect x="280" y="239" width="3" height="1" fill="#000000"/>
<rect x="284" y="233" width="2" height="1" fill="#000000"/>
<rect x="290" y="217" width="1" height="16" fill="#000000"/>
<rect x="287" y="226" width="3" height="1" fill="#000000"/>
<rect x="291" y="225" width="2" height="1" fill="#000000"/>
<rect x="298" y="210" width="1" height="18" fill="#000000"/>
<rect x="295" y="224" width="3" height="1" fill="#000000"/>
<rect x="299" y="219" width="2" height="1" fill="#000000"/>
<rect x="305" y="190" width="1" height="28" fill="#000000"/>
<rect x="302" y="214" width="3" height="1" fill="#000000"/>
<rect x="306" y="200" width="2" height="1" fill="#000000"/>
<rect x="313" y="208" width="1" height="26" fill="#dc143c"/>
<rect x="310" y="208" width="3" height="1" fill="#dc143c"/>
<rect x="314" y="231" width="2" height="1" fill="#dc143c"/>
<rect x="320" y="219" width="1" height="23" fill="#000000"/>
<rect x="317" y="230" width="3" height="1" fill="#000000"/>
<rect x="321" y="226" width="2" height="1" fill="#000000"/>
<rect x="328" y="229" width="1" height="13" fill="#dc143c"/>
<rect x="325" y="231" width="3" height="1" fill="#dc143c"/>
<rect x="329" y="236" width="2" height="1" fill="#dc143c"/>
<rect x="336" y="219" width="1" height="25" fill="#000000"/>
<rect x="333" y="234" width="3" height="1" fill="#000000"/>
<rect x="337" y="220" width="2" height="1" fill="#000000"/>
<rect x="343" y="190" width="1" height="18" fill="#000000"/>
<rect x="340" y="206" width="3" height="1" fill="#000000"/>
<rect x="344" y="206" width="2" height="1" fill="#000000"/>
<rect x="351" y="175" width="1" height="33" fill="#000000"/>
<rect x="348" y="206" width="3" height="1" fill="#000000"/>
<rect x="352" y="177" width="2" height="1" fill="#000000"/>
<rect x="358" y="182" width="1" height="18" fill="#dc143c"/>
<rect x="355" y="182" width="3" height="1" fill="#dc143c"/>
<rect x="359" y="186" width="2" height="1" fill="#dc143c"/>
<rect x="366" y="182" width="1" height="19" fill="#000000"/>
<rect x="363" y="183" width="3" height="1" fill="#000000"/>
<rect x="367" y="182" width="2" height="1" fill="#000000"/>
<rect x="373" y="171" width="1" height="18" fill="#000000"/>
<rect x="370" y="183" width="3" height="1" fill="#000000"/>
<rect x="374" y="182" width="2" height="1" fill="#000000"/>
<rect x="381" y="124" width="1" height="61" fill="#000000"/>
<rect x="378" y="184" width="3" height="1" fill="#000000"/>
<rect x="382" y="163" width="2" height="1" fill="#000000"/>
<rect x="388" y="158" width="1" height="27" fill="#dc143c"/>
<rect x="385" y="163" width="3" height="1" fill="#dc143c"/>
<rect x="389" y="183" width="2" height="1" fill="#dc143c"/>
<rect x="396" y="187" width="1" height="38" fill="#dc143c"/>
<rect x="393" y="195" width="3" height="1" fill="#dc143c"/>
<rect x="397" y="208" width="2" height="1" fill="#dc143c"/>
<rect x="403" y="196" width="1" height="14" fill="#000000"/>
<rect x="400" y="204" width="3" height="1" fill="#000000"/>
<rect x="404" y="198" width="2" height="1" fill="#000000"/>
<rect x="411" y="183" width="1" height="29" fill="#000000"/>
<rect x="408" y="210" width="3" height="1" fill="#000000"/>
<rect x="412" y="187" width="2" height="1" fill="#000000"/>
<rect x="418" y="185" width="1" height="35" fill="#dc143c"/>
<rect x="415" y="187" width="3" height="1" fill="#dc143c"/>
<rect x="419" y="204" width="2" height="1" fill="#dc143c"/>
<rect x="426" y="104" width="1" height="51" fill="#000000"/>
<rect x="423" y="153" width="3" height="1" fill="#000000"/>
<rect x="427" y="134" width="2" height="1" fill="#000000"/>
<rect x="433" y="92" width="1" height="28" fill="#000000"/>
<rect x="430" y="116" width="3" height="1" fill="#000000"/>
<rect x="434" y="102" width="2" height="1" fill="#000000"/>
<rect x="441" y="64" width="1" height="24" fill="#000000"/>
<rect x="438" y="71" width="3" height="1" fill="#000000"/>
<rect x="442" y="85" width="2" height="1" fill="#000000"/>
<rect x="448" y="77" width="1" height="23" fill="#dc143c"/>
<rect x="445" y="83" width="3" height="1" fill="#dc143c"/>
<rect x="449" y="96" width="2" height="1" fill="#dc143c"/>
<rect x="456" y="96" width="1" height="30" fill="#dc143c"/>
<rect x="453" y="96" width="3" height="1" fill="#dc143c"/>
<rect x="457" y="115" width="2" height="1" fill="#dc143c"/>
<rect x="463" y="109" width="1" height="13" fill="#dc143c"/>
<rect x="460" y="115" width="3" height="1" fill="#dc143c"/>
<rect x="464" y="121" width="2" height="1" fill="#dc143c"/>
<rect x="471" y="102" width="1" height="20" fill="#000000"/>
<rect x="468" y="120" width="3" height="1" fill="#000000"/>
<rect x="472" y="115" width="2" height="1" fill="#000000"/>
<rect x="478" y="110" width="1" height="16" fill="#dc143c"/>
<rect x="475" y="123" width="3" height="1" fill="#dc143c"/>
<rect x="479" y="118" width="2" height="1" fill="#dc143c"/>
<rect x="486" y="74" width="1" height="27" fill="#000000"/>
<rect x="483" y="91" width="3" height="1" fill="#000000"/>
<rect x="487" y="85" width="2" height="1" fill="#000000"/>
<rect x="493" y="75" width="1" height="24" fill="#dc143c"/>
<rect x="490" y="81" width="3" height="1" fill="#dc143c"/>
<rect x="494" y="98" width="2" height="1" fill="#dc143c"/>
<rect x="501" y="73" width="1" height="15" fill="#000000"/>
<rect x="498" y="81" width="3" height="1" fill="#000000"/>
<rect x="502" y="82" width="2" height="1" fill="#000000"/>
<rect x="509" y="35" width="1" height="43" fill="#000000"/>
<rect x="506" y="61" width="3" height="1" fill="#000000"/>
<rect x="510" y="70" width="2" height="1" fill="#000000"/>
<rect x="516" y="118" width="1" height="70" fill="#dc143c"/>
<rect x="513" y="121" width="3" height="1" fill="#dc143c"/>
<rect x="517" y="184" width="2" height="1" fill="#dc143c"/>
<rect x="524" y="155" width="1" height="21" fill="#000000"/>
<rect x="521" y="170" width="3" height="1" fill="#000000"/>
<rect x="525" y="170" width="2" height="1" fill="#000000"/>
<rect x="531" y="176" width="1" height="23" fill="#dc143c"/>
<rect x="528" y="182" width="3" height="1" fill="#dc143c"/>
<rect x="532" y="188" width="2" height="1" fill="#dc143c"/>
<rect x="539" y="185" width="1" height="57" fill="#dc143c"/>
<rect x="536" y="188" width="3" height="1" fill="#dc143c"/>
<rect x="540" y="237" width="2" height="1" fill="#dc143c"/>
<rect x="546" y="220" width="1" height="34" fill="#dc143c"/>
<rect x="543" y="244" width="3" height="1" fill="#dc143c"/>
<rect x="547" y="241" width="2" height="1" fill="#dc143c"/>
<rect x="554" y="232" width="1" height="14" fill="#dc143c"/>
<rect x="551" y="237" width="3" height="1" fill="#dc143c"/>
<rect x="555" y="242" width="2" height="1" fill="#dc143c"/>
<rect x="561" y="242" width="1" height="39" fill="#dc143c"/>
<rect x="558" y="243" width="3" height="1" fill="#dc143c"/>
<rect x="562" y="271" width="2" height="1" fill="#dc143c"/>
<rect x="569" y="264" width="1" height="32" fill="#dc143c"/>
<rect x="566" y="272" width="3" height="1" fill="#dc143c"/>
<rect x="570" y="290" width="2" height="1" fill="#dc143c"/>
<rect x="576" y="282" width="1" height="24" fill="#000000"/>
<rect x="573" y="300" width="3" height="1" fill="#000000"/>
<rect x="577" y="289" width="2" height="1" fill="#000000"/>
<rect x="584" y="287" width="1" height="15" fill="#dc143c"/>
<rect x="581" y="287" width="3" height="1" fill="#dc143c"/>
<rect x="585" y="296" width="2" height="1" fill="#dc143c"/>
<rect x="591" y="293" width="1" height="10" fill="#000000"/>
<rect x="588" y="295" width="3" height="1" fill="#000000"/>
<rect x="592" y="295" width="2" height="1" fill="#000000"/>
<rect x="599" y="293" width="1" height="11" fill="#000000"/>
<rect x="596" y="297" width="3" height="1" fill="#000000"/>
<rect x="600" y="294" width="2" height="1" fill="#000000"/>
<rect x="606" y="291" width="1" height="29" fill="#dc143c"/>
<rect x="603" y="296" width="3" height="1" fill="#dc143c"/>
<rect x="607" y="308" width="2" height="1" fill="#dc143c"/>
<rect x="614" y="314" width="1" height="18" fill="#dc143c"/>
<rect x="611" y="318" width="3" height="1" fill="#dc143c"/>
<rect x="615" y="319" width="2" height="1" fill="#dc143c"/>
<rect x="621" y="312" width="1" height="14" fill="#dc143c"/>
<rect x="618" y="317" width="3" height="1" fill="#dc143c"/>
<rect x="622" y="322" width="2" height="1" fill="#dc143c"/>
<rect x="629" y="286" width="1" height="34" fill="#000000"/>
<rect x="626" y="319" width="3" height="1" fill="#000000"/>
<rect x="630" y="291" width="2" height="1" fill="#000000"/>
<rect x="636" y="277" width="1" height="27" fill="#000000"/>
<rect x="633" y="285" width="3" height="1" fill="#000000"/>
<rect x="637" y="287" width="2" height="1" fill="#000000"/>
<rect x="644" y="254" width="1" height="22" fill="#000000"/>
<rect x="641" y="268" width="3" height="1" fill="#000000"/>
<rect x="645" y="271" width="2" height="1" fill="#000000"/>
<rect x="651" y="262" width="1" height="35" fill="#dc143c"/>
<rect x="648" y="268" width="3" height="1" fill="#dc143c"/>
<rect x="652" y="288" width="2" height="1" fill="#dc143c"/>
<rect x="659" y="277" width="1" height="20" fill="#000000"/>
<rect x="656" y="292" width="3" height="1" fill="#000000"/>
<rect x="660" y="281" width="2" height="1" fill="#000000"/>
<rect x="666" y="285" width="1" height="19" fill="#dc143c"/>
<rect x="663" y="295" width="3" height="1" fill="#dc143c"/>
<rect x="667" y="290" width="2" height="1" fill="#dc143c"/>
<rect x="674" y="294" width="1" height="22" fill="#dc143c"/>
<rect x="671" y="296" width="3" height="1" fill="#dc143c"/>
<rect x="675" y="303" width="2" height="1" fill="#dc143c"/>
<rect x="681" y="279" width="1" height="24" fill="#000000"/>
<rect x="678" y="291" width="3" height="1" fill="#000000"/>
<rect x="682" y="297" width="2" height="1" fill="#000000"/>
<rect x="689" y="278" width="1" height="19" fill="#000000"/>
<rect x="686" y="285" width="3" height="1" fill="#000000"/>
<rect x="690" y="296" width="2" height="1" fill="#000000"/>
<rect x="697" y="274" width="1" height="25" fill="#000000"/>
<rect x="694" y="282" width="3" height="1" fill="#000000"/>
<rect x="698" y="283" width="2" height="1" fill="#000000"/>
<rect x="704" y="260" width="1" height="19" fill="#000000"/>
<rect x="701" y="265" width="3" height="1" fill="#000000"/>
<rect x="705" y="270" width="2" height="1" fill="#000000"/>
<rect x="712" y="241" width="1" height="23" fill="#000000"/>
<rect x="709" y="261" width="3" height="1" fill="#000000"/>
<rect x="713" y="259" width="2" height="1" fill="#000000"/>
<rect x="719" y="241" width="1" height="17" fill="#000000"/>
<rect x="716" y="250" width="3" height="1" fill="#000000"/>
<rect x="720" y="251" width="2" height="1" fill="#000000"/>
<rect x="727" y="252" width="1" height="19" fill="#dc143c"/>
<rect x="724" y="254" width="3" height="1" fill="#dc143c"/>
<rect x="728" y="252" width="2" height="1" fill="#dc143c"/>
<rect x="734" y="244" width="1" height="14" fill="#000000"/>
<rect x="731" y="247" width="3" height="1" fill="#000000"/>
<rect x="735" y="249" width="2" height="1" fill="#000000"/>
<rect x="742" y="213" width="1" height="56" fill="#000000"/>
<rect x="739" y="266" width="3" height="1" fill="#000000"/>
<rect x="743" y="243" width="2" height="1" fill="#000000"/>
<rect x="749" y="193" width="1" height="53" fill="#000000"/>
<rect x="746" y="236" width="3" height="1" fill="#000000"/>
<rect x="750" y="199" width="2" height="1" fill="#000000"/>
<rect x="757" y="200" width="1" height="26" fill="#dc143c"/>
<rect x="754" y="201" width="3" height="1" fill="#dc143c"/>
<rect x="758" y="212" width="2" height="1" fill="#dc143c"/>
<rect x="764" y="223" width="1" height="32" fill="#dc143c"/>
<rect x="761" y="224" width="3" height="1" fill="#dc143c"/>
<rect x="765" y="227" width="2" height="1" fill="#dc143c"/>
<rect x="772" y="205" width="1" height="21" fill="#000000"/>
<rect x="769" y="223" width="3" height="1" fill="#000000"/>
<rect x="773" y="223" width="2" height="1" fill="#000000"/>
<rect x="779" y="224" width="1" height="26" fill="#dc143c"/>
<rect x="776" y="240" width="3" height="1" fill="#dc143c"/>
<rect x="780" y="233" width="2" height="1" fill="#dc143c"/>
<rect x="787" y="214" width="1" height="22" fill="#000000"/>
<rect x="784" y="234" width="3" height="1" fill="#000000"/>
<rect x="788" y="217" width="2" height="1" fill="#000000"/>
<rect x="794" y="199" width="1" height="31" fill="#000000"/>
<rect x="791" y="224" width="3" height="1" fill="#000000"/>
<rect x="795" y="203" width="2" height="1" fill="#000000"/>
<rect x="802" y="194" width="1" height="19" fill="#dc143c"/>
<rect x="799" y="203" width="3" height="1" fill="#dc143c"/>
<rect x="803" y="212" width="2" height="1" fill="#dc143c"/>
<rect x="809" y="199" width="1" height="19" fill="#dc143c"/>
<rect x="806" y="210" width="3" height="1" fill="#dc143c"/>
<rect x="810" y="213" width="2" height="1" fill="#dc143c"/>
<rect x="817" y="189" width="1" height="17" fill="#000000"/>
<rect x="814" y="204" width="3" height="1" fill="#000000"/>
<rect x="818" y="194" width="2" height="1" fill="#000000"/>
<rect x="824" y="180" width="1" height="20" fill="#dc143c"/>
<rect x="821" y="195" width="3" height="1" fill="#dc143c"/>
<rect x="825" y="195" width="2" height="1" fill="#dc143c"/>
<rect x="832" y="179" width="1" height="31" fill="#000000"/>
<rect x="829" y="197" width="3" height="1" fill="#000000"/>
<rect x="833" y="181" width="2" height="1" fill="#000000"/>
<rect x="839" y="178" width="1" height="26" fill="#000000"/>
<rect x="836" y="180" width="3" height="1" fill="#000000"/>
<rect x="840" y="180" width="2" height="1" fill="#000000"/>
<rect x="847" y="182" width="1" height="20" fill="#dc143c"/>
<rect x="844" y="184" width="3" height="1" fill="#dc143c"/>
<rect x="848" y="187" width="2" height="1" fill="#dc143c"/>
<rect x="854" y="167" width="1" height="26" fill="#000000"/>
<rect x="851" y="182" width="3" height="1" fill="#000000"/>
<rect x="855" y="168" width="2" height="1" fill="#000000"/>
<rect x="862" y="169" width="1" height="18" fill="#dc143c"/>
<rect x="859" y="170" width="3" height="1" fill="#dc143c"/>
<rect x="863" y="176" width="2" height="1" fill="#dc143c"/>
<rect x="870" y="176" width="1" height="40" fill="#dc143c"/>
<rect x="867" y="176" width="3" height="1" fill="#dc143c"/>
<rect x="871" y="186" width="2" height="1" fill="#dc143c"/>
<rect x="877" y="188" width="1" height="36" fill="#dc143c"/>
<rect x="874" y="188" width="3" height="1" fill="#dc143c"/>
<rect x="878" y="223" width="2" height="1" fill="#dc143c"/>
<rect x="885" y="219" width="1" height="40" fill="#dc143c"/>
<rect x="882" y="221" width="3" height="1" fill="#dc143c"/>
<rect x="886" y="237" width="2" height="1" fill="#dc143c"/>
<rect x="892" y="241" width="1" height="31" fill="#dc143c"/>
<rect x="889" y="250" width="3" height="1" fill="#dc143c"/>
<rect x="893" y="254" width="2" height="1" fill="#dc143c"/>
<rect x="900" y="228" width="1" height="22" fill="#000000"/>
<rect x="897" y="247" width="3" height="1" fill="#000000"/>
<rect x="901" y="234" width="2" height="1" fill="#000000"/>
<rect x="907" y="208" width="1" height="41" fill="#dc143c"/>
<rect x="904" y="216" width="3" height="1" fill="#dc143c"/>
<rect x="908" y="248" width="2" height="1" fill="#dc143c"/>
<rect x="915" y="236" width="1" height="23" fill="#000000"/>
<rect x="912" y="253" width="3" height="1" fill="#000000"/>
<rect x="916" y="236" width="2" height="1" fill="#000000"/>
<rect x="922" y="218" width="1" height="45" fill="#dc143c"/>
<rect x="919" y="229" width="3" height="1" fill="#dc143c"/>
<rect x="923" y="256" width="2" height="1" fill="#dc143c"/>
<rect x="930" y="255" width="1" height="35" fill="#dc143c"/>
<rect x="927" y="259" width="3" height="1" fill="#dc143c"/>
<rect x="931" y="267" width="2" height="1" fill="#dc143c"/>
<rect x="937" y="242" width="1" height="38" fill="#000000"/>
<rect x="934" y="267" width="3" height="1" fill="#000000"/>
<rect x="938" y="244" width="2" height="1" fill="#000000"/>
<rect x="945" y="380" width="1" height="36" fill="#dc143c"/>
<rect x="942" y="395" width="3" height="1" fill="#dc143c"/>
<rect x="946" y="389" width="2" height="1" fill="#dc143c"/>
<g shape-rendering="auto">
<rect x="17" y="29" width="122" height="11" fill="#fff"/>
<rect x="17" y="40" width="82" height="11" fill="#fff"/>
<rect x="17" y="51" width="84" height="11" fill="#fff"/>
<g shape-rendering="crispEdges" fill="#000"><rect x="20" y="31" width="1" height="6"/><rect x="19" y="32" width="1" height="1"/><rect x="21" y="35" width="1" height="1"/><rect x="23" y="34" width="1" height="6"/><rect x="22" y="38" width="1" height="1"/><rect x="24" y="38" width="1" height="1"/><rect x="26" y="31" width="1" height="7"/><rect x="27" y="34" width="1" height="1"/><rect x="25" y="36" width="1" height="1"/></g>
<text x="32" y="38.5" font-family="Liberation Sans, sans-serif" font-size="10" letter-spacing="1.05" fill="#000">MDB (Daily) 209.01</text>
<rect x="19" y="45" width="9" height="2" fill="#006400"/>
<text x="30" y="49.7" font-family="Liberation Sans, sans-serif" font-size="9.5" fill="#006400" stroke="#006400" stroke-width="0.25">MA(50) 262.03</text>
<rect x="19" y="55.5" width="9" height="2" fill="#000080"/>
<text x="30" y="60.2" font-family="Liberation Sans, sans-serif" font-size="9.5" fill="#000080" stroke="#000080" stroke-width="0.25">MA(200) 269.36</text>
</g>
<g font-family="Liberation Sans, sans-serif" fill="#000" shape-rendering="auto">
<text x="16.5" y="13.7" font-size="12.5" font-weight="bold" letter-spacing="-0.3">MDB</text>
<text x="48.5" y="12.8" font-size="10.2" textLength="68.9" lengthAdjust="spacingAndGlyphs">MongoDB, Inc.</text>
<text x="122.5" y="12.8" font-size="9.6" textLength="91.6" lengthAdjust="spacing">Nasdaq GS + BATS</text>
<text x="15.7" y="25.8" font-size="9.6" textLength="98.4" lengthAdjust="spacing">6-Mar-2025 10:24am</text>
<circle cx="866.4" cy="9" r="3.1" fill="none" stroke="#555" stroke-width="1"/><path d="M867.8,7.9 A1.5,1.5 0 1 0 867.8,10.1" fill="none" stroke="#555" stroke-width="0.9"/>
<text x="872.5" y="12.8" font-size="10.5" fill="#555" textLength="79.5" lengthAdjust="spacingAndGlyphs">StockCharts.com</text>
<text x="494.2" y="25.5" font-size="11" font-weight="bold" textLength="27.8" lengthAdjust="spacingAndGlyphs">Open</text>
<text x="526.1" y="25.5" font-size="10.5" textLength="32.1" lengthAdjust="spacingAndGlyphs">207.09</text>
<text x="565" y="25.5" font-size="11" font-weight="bold" textLength="22.6" lengthAdjust="spacingAndGlyphs">High</text>
<text x="591.8" y="25.5" font-size="10.5" textLength="31.9" lengthAdjust="spacingAndGlyphs">212.01</text>
<text x="630.7" y="25.5" font-size="11" font-weight="bold" textLength="23.3" lengthAdjust="spacingAndGlyphs">Low</text>
<text x="657.9" y="25.5" font-size="10.5" textLength="32.1" lengthAdjust="spacingAndGlyphs">200.19</text>
<text x="696.9" y="25.5" font-size="11" font-weight="bold" textLength="23.4" lengthAdjust="spacingAndGlyphs">Last</text>
<text x="723.9" y="25.5" font-size="10.5" textLength="31.6" lengthAdjust="spacingAndGlyphs">209.01</text>
<text x="763.4" y="25.5" font-size="11" font-weight="bold" textLength="41" lengthAdjust="spacingAndGlyphs">Volume</text>
<text x="807.8" y="25.5" font-size="10.5" textLength="24" lengthAdjust="spacingAndGlyphs">3.8M</text>
<text x="838.6" y="25.5" font-size="11" font-weight="bold" textLength="21.8" lengthAdjust="spacingAndGlyphs">Chg</text>
<text x="863.2" y="25.5" font-size="10.5" textLength="79" lengthAdjust="spacingAndGlyphs">-55.12 (-20.87%)</text>
</g>
<path d="M944.8,20.6 h7.4 l-3.7,4 z" fill="#990022"/>
</svg>
</body></html>
